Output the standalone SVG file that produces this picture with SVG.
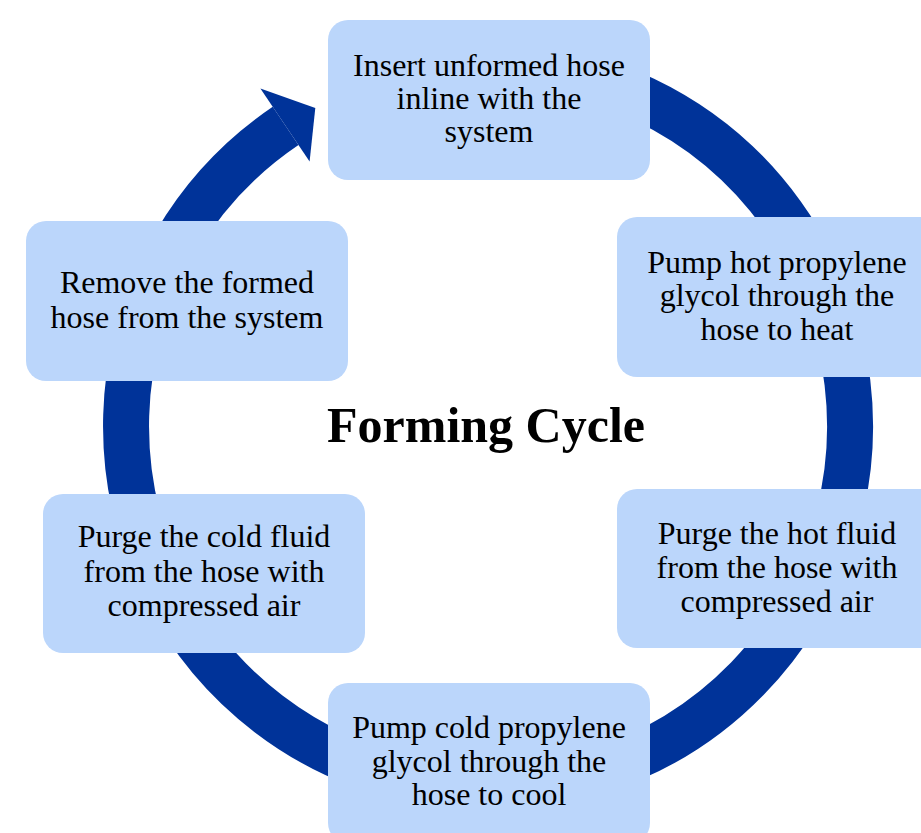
<svg xmlns="http://www.w3.org/2000/svg" width="921" height="833" viewBox="0 0 921 833">
  <style>
    .box { fill: #BBD6FB; }
    .t { font-family: "Liberation Serif", "Times New Roman", serif; font-size: 32px; fill: #000; text-anchor: middle; }
    .title { font-family: "Liberation Serif", "Times New Roman", serif; font-size: 50px; font-weight: bold; fill: #000; text-anchor: middle; }
    .ring { fill: none; stroke: #003399; stroke-width: 46; stroke-linecap: butt; }
    .head { fill: #003399; }
  </style>
  <rect width="921" height="833" fill="#ffffff"/>
  <g id="connectors">
    <path class="ring" d="M 488 64 A 362 362 0 1 1 285.6 125.9"/>
    <polygon class="head" points="260.4,88.6 315.3,107.9 309.6,161.5"/>
  </g>
  <g id="title">
    <text class="title" x="486" y="442">Forming Cycle</text>
  </g>
  <g id="node-insert">
    <rect class="box" x="328" y="20" width="322" height="160" rx="20"/>
    <text class="t" x="489" y="76">Insert unformed hose</text>
    <text class="t" x="489" y="109">inline with the</text>
    <text class="t" x="489" y="142">system</text>
  </g>
  <g id="node-pump-hot">
    <rect class="box" x="617" y="217" width="322" height="160" rx="20"/>
    <text class="t" x="777" y="273">Pump hot propylene</text>
    <text class="t" x="777" y="306">glycol  through the</text>
    <text class="t" x="777" y="340">hose to heat</text>
  </g>
  <g id="node-purge-hot">
    <rect class="box" x="617" y="489" width="322" height="159" rx="20"/>
    <text class="t" x="777" y="544">Purge the hot fluid</text>
    <text class="t" x="777" y="578">from the hose with</text>
    <text class="t" x="777" y="612">compressed air</text>
  </g>
  <g id="node-pump-cold">
    <rect class="box" x="328" y="683" width="322" height="160" rx="20"/>
    <text class="t" x="489" y="738">Pump cold propylene</text>
    <text class="t" x="489" y="772">glycol  through the</text>
    <text class="t" x="489" y="805">hose to cool</text>
  </g>
  <g id="node-purge-cold">
    <rect class="box" x="43" y="494" width="322" height="159" rx="20"/>
    <text class="t" x="204" y="547">Purge the cold fluid</text>
    <text class="t" x="204" y="582">from the hose with</text>
    <text class="t" x="204" y="616">compressed air</text>
  </g>
  <g id="node-remove">
    <rect class="box" x="26" y="221" width="322" height="160" rx="20"/>
    <text class="t" x="187" y="293">Remove the formed</text>
    <text class="t" x="187" y="328">hose from the system</text>
  </g>
</svg>
